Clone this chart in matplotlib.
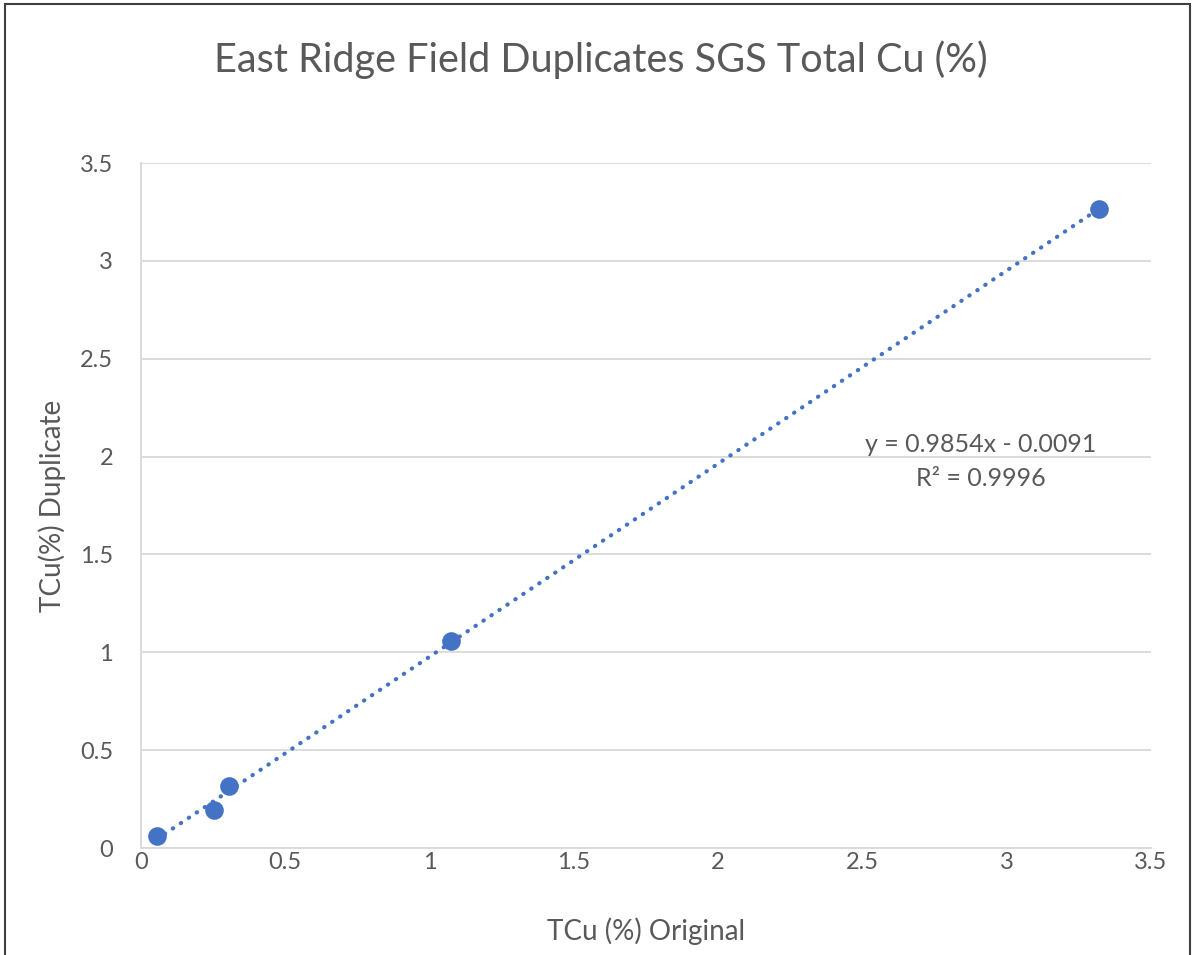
'''
East Ridge field duplicates scatter
'''
import numpy as np
import matplotlib.pyplot as plt
from matplotlib.patches import Rectangle

original = [0.055, 0.253, 0.305, 1.074, 3.32]
duplicate = [0.061, 0.194, 0.317, 1.058, 3.265]
ticks = [0, 0.5, 1, 1.5, 2, 2.5, 3, 3.5]
tick_labels = ['0', '0.5', '1', '1.5', '2', '2.5', '3', '3.5']

GREY = '#595959'
BLUE = '#4472C4'

plt.rcParams['font.family'] = ['Lato', 'DejaVu Sans']

fig = plt.figure(figsize=(11.94, 9.55), dpi=100)
ax = fig.add_axes([0.1181, 0.112, 0.8459, 0.7173])

# trendline over the data range
slope, intercept = np.polyfit(original, duplicate, 1)
xs = np.array([min(original), max(original)])
ax.plot(xs, slope * xs + intercept, color=BLUE, lw=3,
        linestyle=(0, (0.1, 2.2)), dash_capstyle='round', zorder=3)
ax.scatter(original, duplicate, s=180, color=BLUE, zorder=4, linewidths=0)

ax.set_xlim(0, 3.5)
ax.set_ylim(0, 3.5)
ax.set_xticks(ticks, tick_labels)
ax.set_yticks(ticks, tick_labels)
ax.grid(axis='y', color='#d9d9d9', lw=1.3)
ax.set_axisbelow(True)
for side in ['top', 'right']:
    ax.spines[side].set_visible(False)
for side in ['left', 'bottom']:
    ax.spines[side].set_color('#d9d9d9')
    ax.spines[side].set_linewidth(1.3)
ax.tick_params(length=0, labelsize=17, labelcolor=GREY)
ax.tick_params(axis='x', pad=3)
ax.tick_params(axis='y', pad=20)

ax.set_xlabel('TCu (%) Original', fontsize=20, color=GREY, labelpad=32)
ax.set_ylabel('TCu(%) Duplicate', fontsize=20, color=GREY, labelpad=10)
fig.text(0.503, 0.937, 'East Ridge Field Duplicates SGS Total Cu (%)',
         ha='center', va='center', fontsize=28.5, color=GREY)

ax.text(2.91, 1.975, 'y = 0.9854x - 0.0091\nR² = 0.9996', ha='center',
        va='center', fontsize=18, color=GREY, linespacing=1.55)

fig.patches.append(Rectangle((0.004, -0.01), 0.993, 1.006, transform=fig.transFigure,
                             fill=False, edgecolor='#404040', lw=1.5))

fig.savefig('out.png', dpi=100)
